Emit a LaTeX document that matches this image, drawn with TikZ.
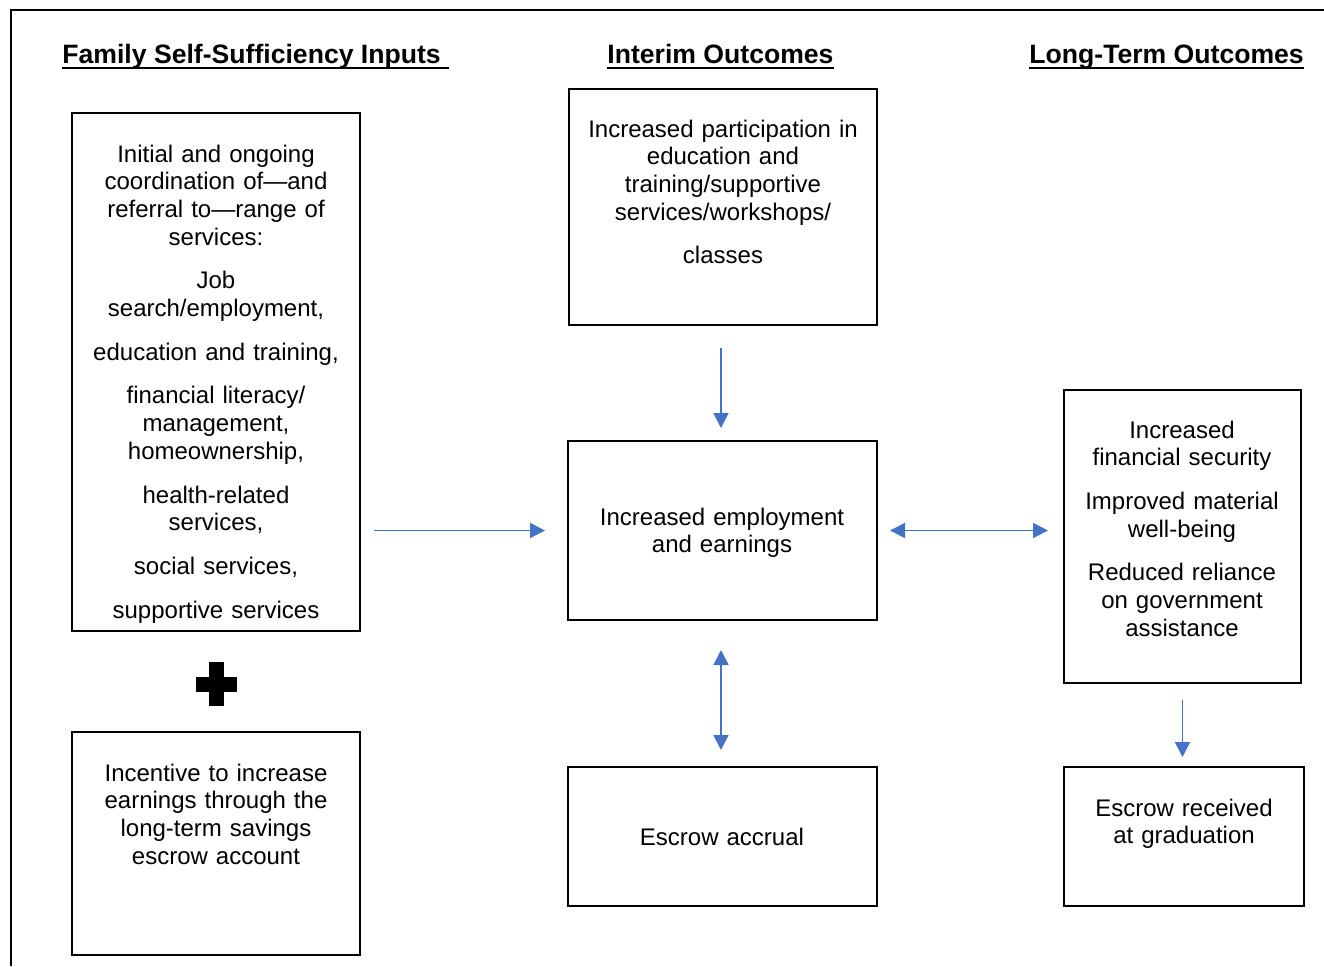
\documentclass[tikz,border=0pt]{standalone}
\usepackage{fontspec}
\setmainfont{Liberation Sans}
\usetikzlibrary{arrows.meta}
\definecolor{arrblue}{HTML}{4472C4}

\begin{document}
\begin{tikzpicture}[x=0.5pt, y=-0.5pt,
    box/.style={draw, line width=0.8pt, anchor=north west, inner sep=0pt, outer sep=0pt},
    txt/.style={anchor=base, inner sep=0pt, align=center, font=\fontsize{12}{13.85}\selectfont},
    head/.style={anchor=base west, inner sep=0pt, font=\fontsize{13.3}{16}\selectfont\bfseries},
    arr/.style={arrblue, line width=0.9pt, -{Triangle[length=7.5pt,width=7.5pt]}},
    darr/.style={arr, {Triangle[length=7.5pt,width=7.5pt]}-{Triangle[length=7.5pt,width=7.5pt]}}]

    \useasboundingbox (0,0) rectangle (1324,966);
    \draw[line width=1pt] (11,966) -- (11,10) -- (1324,10);

    % column headings
    \node[head] (hinputs) at (62,63) {Family Self-Sufficiency Inputs\kern3.7pt};
    \node[head] (hinterim) at (607,63) {Interim Outcomes};
    \node[head] (hlong) at (1029,63) {Long-Term Outcomes};
    \foreach \h in {hinputs,hinterim,hlong}
    \draw[line width=1pt] ([yshift=-2.5pt]\h.base west) -- ([yshift=-2.5pt]\h.base east);

    % boxes
    \node[box, minimum width=144pt, minimum height=259pt] (inputs) at (72,113) {};
    \node[box, minimum width=144pt, minimum height=111.5pt] (incentive) at (72,732) {};
    \node[box, minimum width=154pt, minimum height=118pt] (interim) at (569,89) {};
    \node[box, minimum width=154.5pt, minimum height=89.5pt] (employ) at (568,441) {};
    \node[box, minimum width=154.5pt, minimum height=69.5pt] (accrual) at (568,767) {};
    \node[box, minimum width=118.5pt, minimum height=146.5pt] (longterm) at (1064,390) {};
    \node[box, minimum width=120pt, minimum height=69.5pt] (received) at (1064,767) {};

    % texts
    \node[txt, text width=130pt] (inputs-t) at (216,162) {Initial and ongoing\\ coordination of—and\\ referral to—range of\\ services:\\[8pt] Job\\ search/employment,\\[8pt] education and training,\\[8pt] financial literacy/\\ management,\\ homeownership,\\[8pt] health-related\\ services,\\[8pt] social services,\\[8pt] supportive services};
    \node[txt, text width=125pt] (incentive-t) at (216,781) {Incentive to increase\\ earnings through the\\ long-term savings\\ escrow account};
    \node[txt, text width=145pt] (interim-t) at (723,137) {Increased participation in\\ education and\\ training/supportive\\ services/workshops/\\[8pt] classes};
    \node[txt, text width=145pt] (employ-t) at (722,525) {Increased employment\\ and earnings};
    \node[txt, text width=145pt] (accrual-t) at (722,845) {Escrow accrual};
    \node[txt, text width=110pt] (longterm-t) at (1182,438) {Increased\\ financial security\\[8pt] Improved material\\ well-being\\[8pt] Reduced reliance\\ on government\\ assistance};
    \node[txt, text width=110pt] (received-t) at (1184,816) {Escrow received\\ at graduation};

    % plus sign
    \fill (209,662) rectangle (224,706);
    \fill (196,677) rectangle (237,692);

    % connectors
    \draw[arr, shorten <=7pt, shorten >=11.5pt] (inputs.east |- employ.west) -- (employ.west);
    \draw[arr, shorten <=11.5pt, shorten >=6.5pt] ([xshift=-1pt]interim.south) -- ([xshift=-1pt]interim.south |- employ.north);
    \draw[darr, shorten <=15pt, shorten >=8.5pt] ([xshift=-0.75pt]employ.south) -- ([xshift=-0.75pt]accrual.north);
    \draw[darr, shorten <=6.5pt, shorten >=8pt] (employ.east) -- (employ.east -| longterm.west);
    \draw[arr, shorten <=8.5pt, shorten >=5pt] (longterm.south) -- (longterm.south |- received.north);

\end{tikzpicture}
\end{document}
